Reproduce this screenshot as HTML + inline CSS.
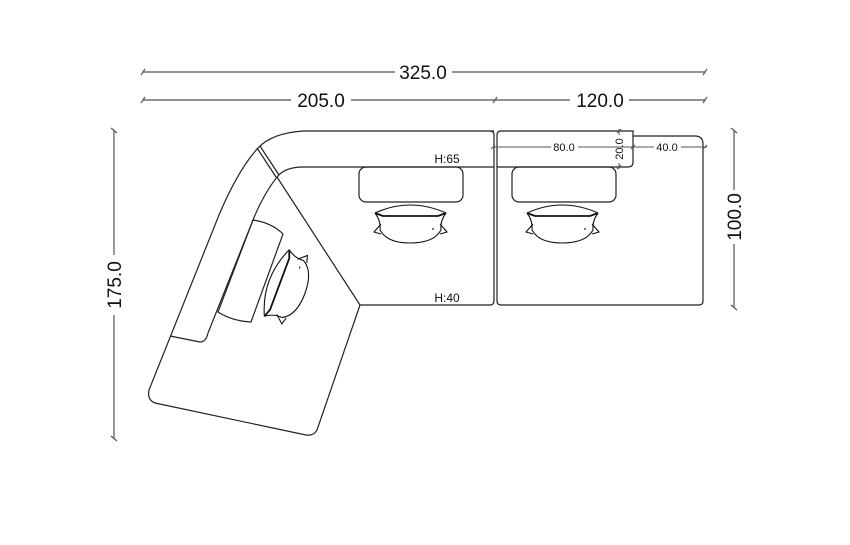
<!DOCTYPE html>
<html><head><meta charset="utf-8"><style>
html,body{margin:0;padding:0;background:#fff;}
svg{display:block;}
text{font-family:"Liberation Sans",sans-serif;fill:#111;}
</style></head><body>
<svg width="850" height="545" viewBox="0 0 850 545" xmlns="http://www.w3.org/2000/svg">
<defs>
<g id="pil" fill="none" stroke="#111" stroke-width="1.1">
<path d="M2,10 Q37,-6 73,10"/>
<path d="M2,10 L10,13 L65,13 L73,10" stroke-width="1.8"/>
<path d="M2,10 Q8,18 7,27 M73,10 Q67,18 68,27"/>
<path d="M7,27 Q14,40 37,40 Q61,40 68,27"/>
<path d="M8,21 L1,29 L8,31 M67,21 L74,29 L67,31"/>
<path d="M59,26 L61,26"/>
</g>
</defs>
<g stroke="#555" stroke-width="1.2" fill="none">
<line x1="143" y1="72" x2="395" y2="72"/><line x1="452" y1="72" x2="705" y2="72"/>
<line x1="143" y1="100" x2="291" y2="100"/><line x1="351" y1="100" x2="570" y2="100"/><line x1="629" y1="100" x2="705" y2="100"/>
<path d="M141,75 L145,69 M703,75 L707,69 M141,103 L145,97 M493,103 L497,97 M703,103 L707,97"/>
<line x1="114" y1="130" x2="114" y2="255"/><line x1="114" y1="315" x2="114" y2="438"/>
<path d="M111,128 L117,133 M111,436 L117,441"/>
<line x1="734" y1="130" x2="734" y2="190"/><line x1="734" y1="244" x2="734" y2="307"/>
<path d="M731,128 L737,133 M731,305 L737,310"/>
</g>
<text x="423" y="79" font-size="19" text-anchor="middle">325.0</text>
<text x="321" y="107" font-size="19" text-anchor="middle">205.0</text>
<text x="600" y="107" font-size="19" text-anchor="middle">120.0</text>
<text transform="translate(121,285) rotate(-90)" font-size="19" text-anchor="middle">175.0</text>
<text transform="translate(741,217) rotate(-90)" font-size="19" text-anchor="middle">100.0</text>
<g fill="none" stroke="#222" stroke-width="1.2">
<path d="M494,131 L303,131 Q272,133 258,148 Q238,170 219,215 L149,390 Q147,400 155,403 L306,435 Q314,436 317,430 L360,305 L490,305 Q494,305 494,300 L494,135 Q494,131 490,131"/>
<path d="M494,167 L303,167 Q285,167 277,177 Q263,195 253,220 L208,333 Q206,342 200,342 L170,336"/>
<path d="M257,148 L276,177 M260,146 L279,175"/>
<line x1="277" y1="177" x2="360" y2="305"/>
<path d="M253,220 Q272,223 283,234 L251,322 Q232,321 218,312 Z"/>
<path d="M497,135 Q497,131 501,131 L633,131 L633,136 L695,136 Q703,136 703,144 L703,301 Q703,305 699,305 L501,305 Q497,305 497,301 Z"/>
<path d="M497,167 L628,167 Q633,167 633,162 L633,136"/>
<rect x="359" y="167" width="104" height="35" rx="7"/>
<rect x="512" y="167" width="104" height="35" rx="7"/>
</g>
<use href="#pil" x="373" y="203"/>
<use href="#pil" x="525" y="203"/>
<use href="#pil" transform="translate(286,287) rotate(-69.5) translate(-37,-20)"/>
<text x="447" y="163" font-size="12" text-anchor="middle">H:65</text>
<text x="447" y="302" font-size="12" text-anchor="middle">H:40</text>
<g stroke="#555" stroke-width="1" fill="none">
<line x1="493" y1="147" x2="551" y2="147"/><line x1="578" y1="147" x2="654" y2="147"/><line x1="681" y1="147" x2="707" y2="147"/>
<line x1="619" y1="129" x2="619" y2="135"/><line x1="619" y1="163" x2="619" y2="169"/>
<path d="M491,149 L495,145 M631,149 L635,145 M703,149 L707,145 M617,133 L621,129 M617,169 L621,165"/>
</g>
<text x="564" y="151" font-size="11" text-anchor="middle">80.0</text>
<text x="667" y="151" font-size="11" text-anchor="middle">40.0</text>
<text transform="translate(623,149) rotate(-90)" font-size="11" text-anchor="middle">20.0</text>
</svg>
</body></html>
